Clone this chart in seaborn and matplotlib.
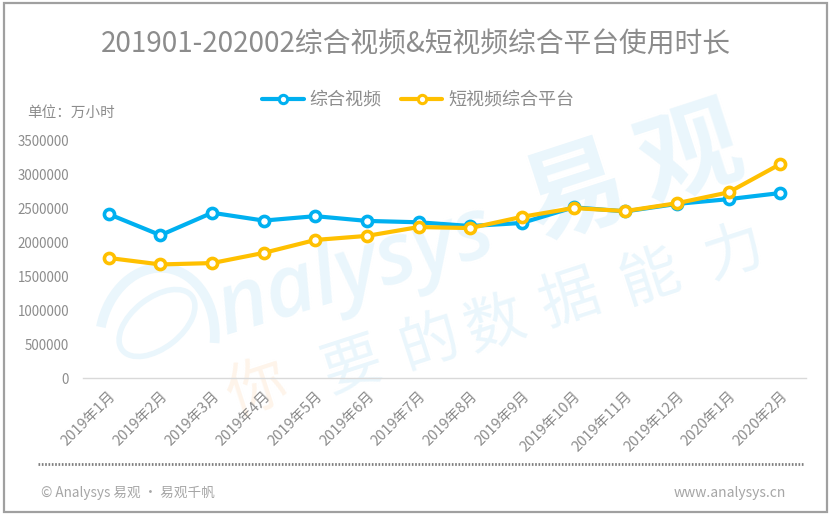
#!/usr/bin/env python
import pandas as pd
import seaborn as sns
import matplotlib
matplotlib.use("Agg")
import matplotlib.pyplot as plt
from matplotlib.patches import Rectangle, Ellipse, Arc
from matplotlib.lines import Line2D
from matplotlib.transforms import IdentityTransform

months = ["2019年1月", "2019年2月", "2019年3月", "2019年4月", "2019年5月", "2019年6月", "2019年7月",
          "2019年8月", "2019年9月", "2019年10月", "2019年11月", "2019年12月", "2020年1月", "2020年2月"]
long_video = [2410000, 2100000, 2430000, 2315000, 2380000, 2310000, 2290000,
              2235000, 2280000, 2510000, 2450000, 2560000, 2630000, 2720000]
short_video = [1765000, 1670000, 1690000, 1840000, 2030000, 2090000, 2220000,
               2205000, 2370000, 2500000, 2455000, 2570000, 2730000, 3145000]
y_ticks = [0, 500000, 1000000, 1500000, 2000000, 2500000, 3000000, 3500000]

BLUE = "#00B0F0"
YELLOW = "#FFC000"
GREY = "#8c8c8c"
WM_BLUE = "#eaf6fc"
W, H = 832, 515

sns.set_style("white")
plt.rcParams["font.family"] = ["Noto Sans CJK SC", "DejaVu Sans"]

fig = plt.figure(figsize=(W / 100, H / 100), dpi=100)
# text defaults to zorder 3, the axes must sit above the watermark
ax = fig.add_axes([83 / W, 1 - 378 / H, (806 - 83) / W, 238 / H], zorder=10)
ax.patch.set_alpha(0)

df = pd.DataFrame({"month": months, "综合视频": long_video, "短视频综合平台": short_video})
long_df = df.melt(id_vars="month", var_name="平台", value_name="时长")
sns.lineplot(data=long_df, x="month", y="时长", hue="平台", palette=[BLUE, YELLOW], sort=False,
             marker="o", markersize=7.3, markerfacecolor="white", markeredgewidth=2.6,
             linewidth=3, ax=ax, legend=False, zorder=5)
for line, color in zip(ax.lines, [BLUE, YELLOW]):
    line.set_markeredgecolor(color)

ax.set_xlim(-0.5, len(months) - 0.5)
ax.set_ylim(0, 3500000)
ax.set_xlabel("")
ax.set_ylabel("")
ax.set_yticks(y_ticks)
ax.set_yticklabels([str(v) for v in y_ticks], fontsize=9.6, color=GREY)
ax.set_xticks(range(len(months)))
ax.set_xticklabels(months, rotation=45, ha="right", rotation_mode="anchor", fontsize=10.5, color=GREY)
ax.set_xticks([i - 0.5 for i in range(len(months) + 1)], minor=True)
ax.tick_params(axis="x", which="major", length=0, pad=8)
ax.tick_params(axis="x", which="minor", length=4, width=1, color="#d9d9d9", direction="out")
ax.tick_params(axis="y", length=0, pad=10)
sns.despine(ax=ax, left=True)
ax.spines["bottom"].set_color("#d9d9d9")
ax.spines["bottom"].set_linewidth(1)


def px_text(x, y, s, **kw):
    return fig.text(x / W, 1 - y / H, s, **kw)


# watermark
for ch, x, y in [("易", 575, 194), ("观", 690, 157)]:
    px_text(x, y, ch, fontsize=74, color=WM_BLUE, rotation=18, ha="center", va="center", fontweight="bold", zorder=1)
px_text(355, 272, "nalysys", fontsize=62, color=WM_BLUE, rotation=17, ha="center", va="center",
        family="Open Sans", fontweight="semibold", fontstyle="italic", zorder=1)
for ch, x, y, c in [("你", 257, 390, "#fef4ea"), ("要", 353, 367, WM_BLUE), ("的", 430, 343, WM_BLUE),
                    ("数", 495, 325, WM_BLUE), ("据", 570, 300, WM_BLUE), ("能", 650, 278, WM_BLUE),
                    ("力", 735, 254, WM_BLUE)]:
    px_text(x, y, ch, fontsize=43, color=c, rotation=18, ha="center", va="center", zorder=1)
# swoosh of the logo letter A, in pixel coordinates
fig.add_artist(Ellipse((157, H - 323), 88, 50, angle=38, fill=False, ec=WM_BLUE, lw=4,
                       transform=IdentityTransform(), zorder=1))
fig.add_artist(Arc((157, H - 340), 115, 145, angle=-8, theta1=5, theta2=175, ec=WM_BLUE, lw=7,
                   transform=IdentityTransform(), zorder=1))

# header and footer
px_text(415.5, 45, "201901-202002综合视频&短视频综合平台使用时长", fontsize=20, color=GREY, ha="center", va="center")
px_text(71, 113, "单位：万小时", fontsize=10.5, color=GREY, ha="center", va="center")
px_text(41, 493, "© Analysys 易观 · 易观千帆", fontsize=9.8, color="#a6a6a6", ha="left", va="center")
px_text(786, 493, "www.analysys.cn", fontsize=10, color="#a6a6a6", ha="right", va="center")

handles = [
    Line2D([], [], color=BLUE, lw=3, marker="o", ms=6, mfc="white", mec=BLUE, mew=2.2),
    Line2D([], [], color=YELLOW, lw=3, marker="o", ms=6, mfc="white", mec=YELLOW, mew=2.2),
]
fig.legend(handles, ["综合视频", "短视频综合平台"], loc="center", bbox_to_anchor=(418 / W, 1 - 100 / H),
           ncol=2, frameon=False, fontsize=13, labelcolor=GREY, handlelength=2.3,
           handletextpad=0.3, columnspacing=1.1)

fig.add_artist(Line2D([38 / W, 803 / W], [1 - 464 / H] * 2, color="#7f7f7f", lw=2, ls=(0, (0.6, 0.6))))
fig.add_artist(Rectangle((4 / W, 3 / H), 823 / W, 509 / H, fill=False, ec="#a0a0a0", lw=1.6))

fig.savefig("out.png", dpi=100)
